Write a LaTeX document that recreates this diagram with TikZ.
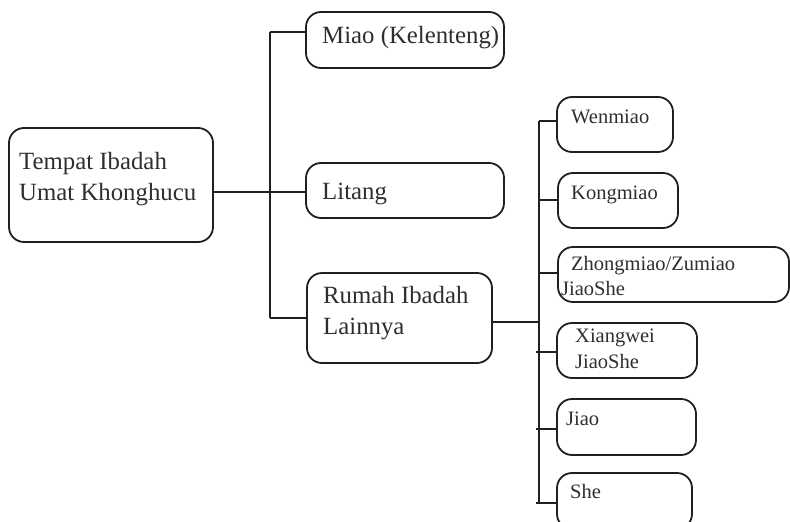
\documentclass[tikz,border=0pt]{standalone}
\usepackage{fontspec}
\setmainfont{Liberation Serif}
\begin{document}
\begin{tikzpicture}[x=1pt,y=-1pt,
  box/.style={draw=black!88, line width=1.8pt, rounded corners=15pt, inner sep=0pt, shape=rectangle},
  link/.style={draw=black!88, line width=1.8pt},
  maintxt/.style={inner sep=0pt, align=left, text=black!82, font=\fontsize{24.8}{30.5}\selectfont},
  subtxt/.style={inner sep=0pt, align=left, text=black!82, font=\fontsize{20.5}{25.5}\selectfont}]
\useasboundingbox (0,0) rectangle (790,522);
\clip (0,0) rectangle (790,522);
% level 0 and 1 boxes
\node[box, minimum width=204pt, minimum height=114pt] (root) at (111,185) {};
\node[box, minimum width=198pt, minimum height=56pt] (miao) at (405,40) {};
\node[box, minimum width=198pt, minimum height=55pt] (litang) at (405,190.5) {};
\node[box, minimum width=185pt, minimum height=90pt] (rumah) at (399.5,318) {};
% level 2 boxes
\node[box, minimum width=116pt, minimum height=55pt] (wen) at (615,124.5) {};
\node[box, minimum width=120pt, minimum height=55pt] (kong) at (618,200.5) {};
\node[box, minimum width=231pt, minimum height=55pt] (zhong) at (673.5,274.5) {};
\node[box, minimum width=140pt, minimum height=55pt] (xiang) at (627,350.5) {};
\node[box, minimum width=139pt, minimum height=56pt] (jiao) at (626.5,427) {};
\node[box, minimum width=135pt, minimum height=56pt] (she) at (624.5,501) {};
% texts (base of multi-line nodes = last line)
\node[maintxt, anchor=base west] (troot) at (19,200) {Tempat Ibadah\\Umat Khonghucu};
\node[maintxt, anchor=base west] (tmiao) at (322,43) {Miao (Kelenteng)};
\node[maintxt, anchor=base west] (tlitang) at (322,199) {Litang};
\node[maintxt, anchor=base west] (trumah) at (323,334) {Rumah Ibadah\\Lainnya};
\node[subtxt, anchor=base west] (twen) at (571,123) {Wenmiao};
\node[subtxt, anchor=base west] (tkong) at (571,199) {Kongmiao};
\node[subtxt, anchor=base west] (tzhong) at (571,270) {Zhongmiao/Zumiao};
\node[subtxt, anchor=base west] (tzhong2) at (561,295) {JiaoShe};
\node[subtxt, anchor=base west] (txiang) at (575,368) {Xiangwei\\JiaoShe};
\node[subtxt, anchor=base west] (tjiao) at (566,425) {Jiao};
\node[subtxt, anchor=base west] (tshe) at (570,498) {She};
% trunk 1
\coordinate (a1) at (270,32);
\coordinate (a2) at (270,192);
\coordinate (a3) at (270,318);
\draw[link] (a1) -- (a3);
\draw[link] (a1) -- (miao.west |- a1);
\draw[link] (root.east |- a2) -- (litang.west |- a2);
\draw[link] (a3) -- (rumah.west |- a3);
% trunk 2
\coordinate (b0) at (539,322);
\coordinate (b1) at (539,121);
\coordinate (b2) at (539,200);
\coordinate (b3) at (539,273);
\coordinate (b4) at (539,352);
\coordinate (b5) at (539,429);
\coordinate (b6) at (539,503);
\draw[link] (b1) -- (b6);
\draw[link] (rumah.east |- b0) -- (b0);
\draw[link] (b1) -- (wen.west |- b1);
\draw[link] (b2) -- (kong.west |- b2);
\draw[link] (b3) -- (zhong.west |- b3);
\draw[link] ([xshift=-3pt]b4) -- (xiang.west |- b4);
\draw[link] ([xshift=-3pt]b5) -- (jiao.west |- b5);
\draw[link] ([xshift=-3pt]b6) -- (she.west |- b6);
\end{tikzpicture}
\end{document}
